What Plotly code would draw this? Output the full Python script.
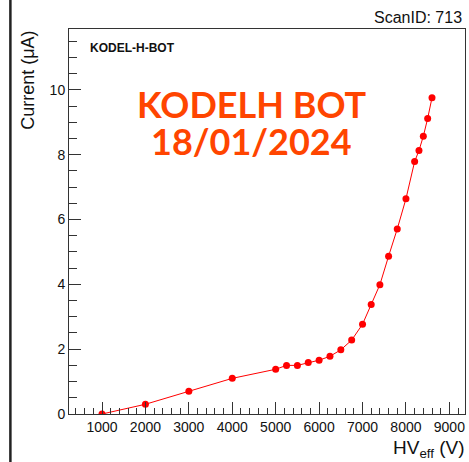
import plotly.graph_objects as go

# HV scan data
hv_eff = [1000, 2000, 3000, 4000, 5000, 5250, 5500, 5750, 6000, 6250, 6500,
          6750, 7000, 7200, 7400, 7600, 7800, 8000, 8200, 8300, 8400, 8500, 8600]
current = [0.0, 0.3, 0.7, 1.1, 1.38, 1.5, 1.5, 1.59, 1.66, 1.78, 1.98,
           2.28, 2.77, 3.38, 3.99, 4.87, 5.71, 6.64, 7.79, 8.13, 8.57, 9.12, 9.76]

scan_label = "ScanID: 713"
chamber = "KODEL-H-BOT"
stamp_lines = ["KODELH BOT", "18/01/2024"]

font = "Liberation Sans, Arial, sans-serif"

fig = go.Figure()
fig.add_trace(go.Scatter(
    x=hv_eff, y=current, mode="lines+markers",
    line=dict(color="#ff0000", width=1),
    marker=dict(color="#ff0000", size=7),
    showlegend=False,
))

axis_common = dict(
    showline=True, linecolor="#333333", linewidth=1, mirror=True,
    showgrid=False, zeroline=False, ticks="inside", tickcolor="#333333",
    tickfont=dict(family=font, size=14, color="#111111"),
)

fig.update_xaxes(
    range=[240, 9360], tick0=0, dtick=1000, ticklen=12,
    minor=dict(ticks="inside", dtick=200, ticklen=6, tickcolor="#333333"),
    **axis_common,
)
fig.update_yaxes(
    range=[0, 11.88], tick0=0, dtick=2, ticklen=12,
    minor=dict(ticks="inside", dtick=0.5, ticklen=8, tickcolor="#333333"),
    **axis_common,
)

fig.update_layout(
    width=469, height=462,
    margin=dict(l=69, r=4, t=29, b=48),
    plot_bgcolor="white", paper_bgcolor="white",
    font=dict(family=font),
)

# Axis titles
fig.add_annotation(text="Current (\u03bcA)", xref="paper", yref="paper",
                   x=-0.075, y=1.0, xanchor="right", yanchor="top", textangle=-90,
                   showarrow=False, font=dict(family=font, size=18, color="#111111"))
fig.add_annotation(text="HV<sub>eff</sub> (V)", xref="paper", yref="paper",
                   x=1.005, y=-0.055, xanchor="right", yanchor="top",
                   showarrow=False, font=dict(family=font, size=19, color="#111111"))

# Labels
fig.add_annotation(text=scan_label, xref="paper", yref="paper",
                   x=0.998, y=1.0, xanchor="right", yanchor="bottom", yshift=1,
                   showarrow=False, font=dict(family=font, size=16, color="#111111"))
fig.add_annotation(text="<b>" + chamber + "</b>", xref="paper", yref="paper",
                   x=0.048, y=0.95, xanchor="left", yanchor="middle",
                   showarrow=False, font=dict(family=font, size=12, color="#111111"))
for line_text, ypos in zip(stamp_lines, [0.806, 0.71]):
    fig.add_annotation(text="<b>" + line_text + "</b>", xref="paper", yref="paper",
                       x=0.462, y=ypos, xanchor="center", yanchor="middle",
                       height=36, showarrow=False,
                       font=dict(family="Lato, sans-serif", size=36, color="#ff4500"))

# black bar at the far left edge
fig.add_shape(type="line", xref="paper", yref="paper",
              x0=-0.148, x1=-0.148, y0=-0.2, y1=1.1,
              line=dict(color="#222222", width=2.5))

fig.write_html("out.html", config={"displayModeBar": False},
               post_script="document.body.style.margin='0';")
